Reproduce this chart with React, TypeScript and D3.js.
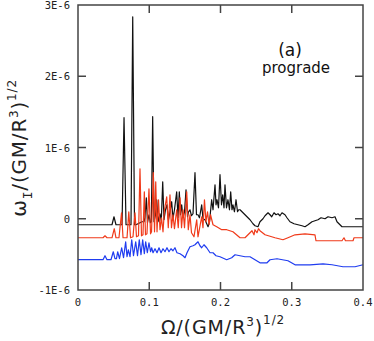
import React, { useEffect, useRef } from 'react';
import * as d3 from 'd3';

// omega_I in units of 1E-6 (GM/R^3)^1/2, vs Omega
const blackSeries: [number, number][] = [
  [0, -0.084], [0.0309, -0.084], [0.0477, -0.084], [0.0505, 0.028], [0.0533, -0.084],
  [0.0618, -0.084], [0.0646, 1.418], [0.0674, -0.084], [0.0744, -0.084], [0.0768, 2.835],
  [0.0793, -0.084], [0.0814, -0.084], [0.0842, -0.070], [0.0870, -0.056], [0.0898, -0.042],
  [0.0926, -0.042], [0.0940, 0.014], [0.0959, 0.295], [0.0975, -0.056], [0.0996, 0.056],
  [0.1015, -0.056], [0.1029, -0.042], [0.1048, 1.432], [0.1067, -0.042], [0.1088, 0.056],
  [0.1105, 0.267], [0.1123, -0.042], [0.1151, 0.070], [0.1169, -0.028], [0.1189, 0.519],
  [0.1207, -0.014], [0.1228, 0.126], [0.1249, 0.196], [0.1270, -0.014], [0.1291, 0.098],
  [0.1315, 0.239], [0.1333, 0], [0.1354, 0.126], [0.1385, 0.379], [0.1404, 0.014],
  [0.1422, 0.379], [0.1439, 0.056], [0.1455, 0.196], [0.1474, 0.014], [0.1495, 0.098],
  [0.1516, 0.407], [0.1537, 0.028], [0.1551, 0.098], [0.1572, 0.126], [0.1593, 0.042],
  [0.1614, 0.070], [0.1642, 0.646], [0.1663, 0.056], [0.1684, 0.056], [0.1705, 0.014],
  [0.1736, 0.196], [0.1754, 0], [0.1782, -0.014], [0.1825, -0.112], [0.1846, -0.042],
  [0.1876, 0.267], [0.1895, 0.126], [0.1923, 0.477], [0.1937, 0.196], [0.1951, 0.267],
  [0.1972, 0.154], [0.1993, 0.618], [0.2014, 0.196], [0.2031, 0.337], [0.2049, 0.154],
  [0.2063, 0.477], [0.2084, 0.154], [0.2105, 0.267], [0.2126, 0.126], [0.2143, 0.379],
  [0.2161, 0.126], [0.2175, 0.196], [0.2196, 0.098], [0.2218, 0.267], [0.2239, 0.098],
  [0.2255, 0.126], [0.2274, 0.126], [0.2316, 0.084], [0.2344, 0.056], [0.2386, 0.014],
  [0.2414, -0.014], [0.2456, -0.070], [0.2484, -0.098], [0.2526, -0.112], [0.2554, -0.042],
  [0.2596, 0], [0.2625, 0.042], [0.2667, 0.084], [0.2695, 0.056], [0.2719, 0.028],
  [0.2751, 0.084], [0.2779, 0.056], [0.2807, 0.070], [0.2835, 0.042], [0.2863, 0.084],
  [0.2905, 0.056], [0.2933, 0.014], [0.2975, -0.042], [0.3032, -0.070], [0.3088, -0.084],
  [0.3144, -0.098], [0.3186, -0.112], [0.3228, -0.084], [0.3284, -0.042], [0.3326, -0.028],
  [0.3368, -0.014], [0.3411, 0.014], [0.3467, 0], [0.3509, 0.028], [0.3565, 0.014],
  [0.3607, 0.028], [0.3635, -0.042], [0.3663, -0.070], [0.3691, -0.098], [0.3705, -0.112],
  [0.4, -0.112],
];

const redSeries: [number, number][] = [
  [0, -0.267], [0.0351, -0.267], [0.0379, -0.239], [0.0407, -0.267], [0.0477, -0.267],
  [0.0509, -0.140], [0.0533, -0.267], [0.0575, -0.267], [0.0611, 0.084], [0.0632, -0.267],
  [0.0688, -0.267], [0.0713, 0.098], [0.0737, -0.267], [0.0772, -0.253], [0.0800, 0.084],
  [0.0821, -0.253], [0.0849, -0.239], [0.0870, 0.702], [0.0891, -0.239], [0.0912, -0.225],
  [0.0931, 0.379], [0.0947, -0.225], [0.0968, -0.211], [0.0996, 0.421], [0.1018, -0.211],
  [0.1032, -0.183], [0.1057, 0.646], [0.1074, -0.183], [0.1091, 0.519], [0.1109, -0.183],
  [0.1130, 0.267], [0.1151, -0.154], [0.1172, 0.014], [0.1193, -0.183], [0.1214, 0.126],
  [0.1245, 0.309], [0.1267, -0.126], [0.1291, 0.337], [0.1312, -0.126], [0.1333, 0.056],
  [0.1354, -0.140], [0.1385, 0.126], [0.1407, -0.126], [0.1432, 0.295], [0.1453, -0.126],
  [0.1474, 0.126], [0.1495, -0.126], [0.1526, 0.379], [0.1548, -0.154], [0.1572, 0.056],
  [0.1593, -0.196], [0.1628, -0.253], [0.1666, -0.014], [0.1684, -0.253], [0.1736, 0.028],
  [0.1754, -0.126], [0.1775, 0.267], [0.1796, -0.042], [0.1818, 0.098], [0.1839, -0.084],
  [0.1860, 0.056], [0.1895, -0.084], [0.1947, -0.112], [0.2017, -0.154], [0.2087, -0.154],
  [0.2175, -0.183], [0.2274, -0.267], [0.2344, -0.267], [0.2414, -0.196], [0.2442, -0.168],
  [0.2470, -0.225], [0.2484, -0.154], [0.2512, -0.196], [0.2533, -0.140], [0.2554, -0.168],
  [0.2625, -0.225], [0.2765, -0.267], [0.2877, -0.295], [0.2947, -0.267], [0.3046, -0.225],
  [0.3186, -0.211], [0.3326, -0.225], [0.3340, -0.309], [0.3705, -0.309], [0.3733, -0.267],
  [0.3754, -0.309], [0.3860, -0.309], [0.3874, -0.267], [0.4, -0.267],
];

const blueSeries: [number, number][] = [
  [0, -0.575], [0.0351, -0.575], [0.0379, -0.519], [0.0407, -0.575], [0.0463, -0.575],
  [0.0495, -0.463], [0.0519, -0.561], [0.0540, -0.561], [0.0557, -0.463], [0.0582, -0.561],
  [0.0613, -0.407], [0.0639, -0.547], [0.0669, -0.323], [0.0688, -0.533], [0.0706, -0.435],
  [0.0730, -0.533], [0.0754, -0.295], [0.0779, -0.519], [0.0810, -0.323], [0.0835, -0.519],
  [0.0860, -0.295], [0.0884, -0.505], [0.0908, -0.295], [0.0931, -0.491], [0.0950, -0.323],
  [0.0973, -0.477], [0.0996, -0.337], [0.1018, -0.463], [0.1034, -0.407], [0.1053, -0.477],
  [0.1081, -0.421], [0.1109, -0.477], [0.1137, -0.407], [0.1165, -0.477], [0.1193, -0.421],
  [0.1221, -0.463], [0.1249, -0.407], [0.1277, -0.463], [0.1305, -0.421], [0.1333, -0.449],
  [0.1361, -0.407], [0.1389, -0.477], [0.1432, -0.491], [0.1474, -0.519], [0.1502, -0.547],
  [0.1530, -0.477], [0.1572, -0.393], [0.1614, -0.379], [0.1642, -0.365], [0.1684, -0.323],
  [0.1712, -0.379], [0.1736, -0.407], [0.1768, -0.365], [0.1806, -0.407], [0.1853, -0.477],
  [0.1895, -0.477], [0.1937, -0.519], [0.1993, -0.533], [0.2087, -0.575], [0.2157, -0.547],
  [0.2204, -0.505], [0.2274, -0.519], [0.2344, -0.533], [0.2414, -0.533], [0.2484, -0.575],
  [0.2554, -0.618], [0.2653, -0.618], [0.2695, -0.575], [0.2793, -0.561], [0.2947, -0.589],
  [0.3046, -0.646], [0.3256, -0.646], [0.3439, -0.632], [0.3565, -0.646], [0.3719, -0.674],
  [0.3888, -0.674], [0.4, -0.646],
];

const xTicks = [0, 0.1, 0.2, 0.3, 0.4];
const xTickLabels = ['0', '0.1', '0.2', '0.3', '0.4'];
const yTicks = [-1, 0, 1, 2, 3];
const yTickLabels = ['-1E-6', '0', '1E-6', '2E-6', '3E-6'];

const width = 374;
const height = 341;
const margin = { top: 5, right: 11, bottom: 51, left: 78 };

export default function App() {
  const svgRef = useRef<SVGSVGElement>(null);

  useEffect(() => {
    const svg = d3.select(svgRef.current);
    svg.selectAll('*').remove();

    const x = d3.scaleLinear().domain([0, 0.4]).range([margin.left, width - margin.right]);
    const y = d3.scaleLinear().domain([-1, 3]).range([height - margin.bottom, margin.top]);
    const axisColor = '#444';
    const mono = '"DejaVu Sans Mono", monospace';
    const sans = '"DejaVu Sans", sans-serif';

    // data lines
    const line = d3.line<[number, number]>().x(d => x(d[0])).y(d => y(d[1]));
    const series: [[number, number][], string][] = [
      [blackSeries, '#111'],
      [redSeries, '#f03a1a'],
      [blueSeries, '#1f3cf0'],
    ];
    series.forEach(([data, color]) => {
      svg.append('path')
        .datum(data)
        .attr('fill', 'none')
        .attr('stroke', color)
        .attr('stroke-width', 1.2)
        .attr('stroke-linejoin', 'round')
        .attr('d', line);
    });

    // frame
    svg.append('rect')
      .attr('x', x(0)).attr('y', y(3))
      .attr('width', x(0.4) - x(0)).attr('height', y(-1) - y(3))
      .attr('fill', 'none').attr('stroke', axisColor).attr('stroke-width', 1.5);

    // ticks inward on all four sides
    const tickLen = 8;
    const inner = (arr: number[]) => arr.slice(1, -1);
    const g = svg.append('g').attr('stroke', axisColor).attr('stroke-width', 1.5);
    inner(xTicks).forEach(t => {
      g.append('line').attr('x1', x(t)).attr('x2', x(t)).attr('y1', y(-1)).attr('y2', y(-1) - tickLen);
      g.append('line').attr('x1', x(t)).attr('x2', x(t)).attr('y1', y(3)).attr('y2', y(3) + tickLen);
    });
    inner(yTicks).forEach(t => {
      g.append('line').attr('x1', x(0)).attr('x2', x(0) + tickLen).attr('y1', y(t)).attr('y2', y(t));
      g.append('line').attr('x1', x(0.4)).attr('x2', x(0.4) - tickLen).attr('y1', y(t)).attr('y2', y(t));
    });

    // tick labels
    xTicks.forEach((t, i) => {
      svg.append('text')
        .attr('x', x(t)).attr('y', y(-1) + 16)
        .attr('text-anchor', 'middle')
        .attr('font-family', mono).attr('font-size', 10.5).attr('fill', '#222')
        .text(xTickLabels[i]);
    });
    yTicks.forEach((t, i) => {
      svg.append('text')
        .attr('x', x(0) - 8).attr('y', y(t) + 4)
        .attr('text-anchor', 'end')
        .attr('font-family', mono).attr('font-size', 10.5).attr('fill', '#222')
        .text(yTickLabels[i]);
    });

    // x axis title
    const xt = svg.append('text')
      .attr('x', 223).attr('y', 334)
      .attr('text-anchor', 'middle')
      .attr('font-family', sans).attr('font-size', 19).attr('fill', '#222')
      .attr('letter-spacing', 0.9);
    xt.append('tspan').text('Ω/(GM/R');
    xt.append('tspan').attr('dy', -8).attr('font-size', 12).text('3');
    xt.append('tspan').attr('dy', 8).text(')');
    xt.append('tspan').attr('dy', -10).attr('font-size', 12).text('1/2');

    // y axis title
    const yt = svg.append('text')
      .attr('transform', 'translate(26,148) rotate(-90)')
      .attr('text-anchor', 'middle')
      .attr('font-family', sans).attr('font-size', 20).attr('fill', '#222')
      .attr('letter-spacing', 0.8);
    yt.append('tspan').text('ω');
    yt.append('tspan').attr('dy', 6).attr('font-size', 13).attr('font-family', mono).text('I');
    yt.append('tspan').attr('dy', -6).text('/(GM/R');
    yt.append('tspan').attr('dy', -8).attr('font-size', 12).text('3');
    yt.append('tspan').attr('dy', 8).text(')');
    yt.append('tspan').attr('dy', -10).attr('font-size', 12).text('1/2');

    // panel annotation
    svg.append('text')
      .attr('x', 290).attr('y', 56)
      .attr('text-anchor', 'middle')
      .attr('font-family', sans).attr('font-size', 17).attr('fill', '#111')
      .text('(a)');
    svg.append('text')
      .attr('x', 296).attr('y', 73)
      .attr('text-anchor', 'middle')
      .attr('font-family', sans).attr('font-size', 15).attr('fill', '#111')
      .text('prograde');
  }, []);

  return (
    <svg
      ref={svgRef}
      width={width}
      height={height}
      style={{ position: 'absolute', left: 0, top: 0, background: '#fff' }}
    />
  );
}
